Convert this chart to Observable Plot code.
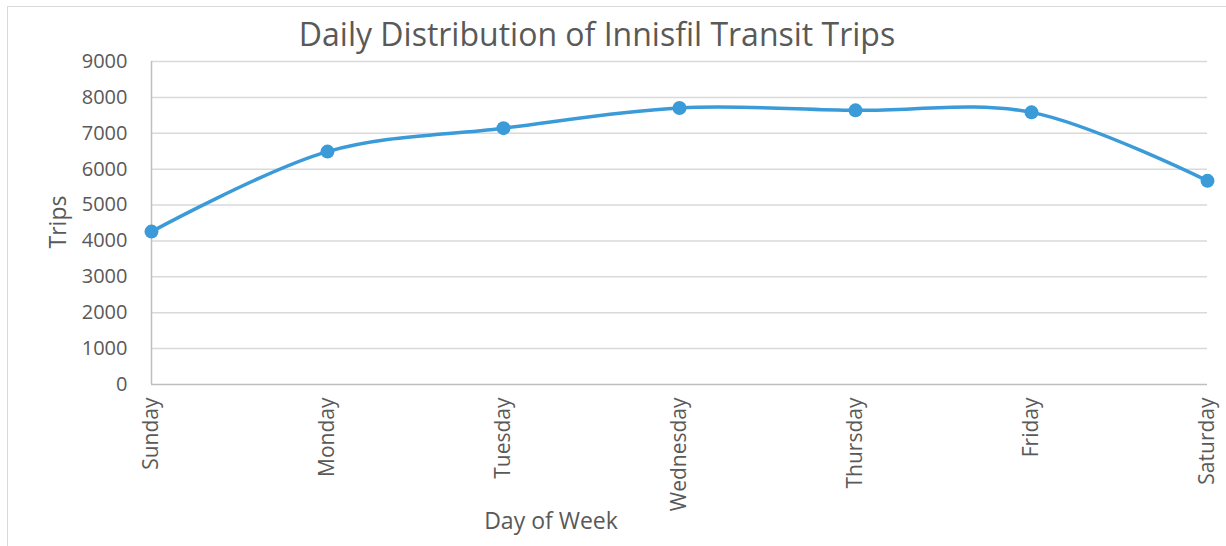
<!DOCTYPE html>
<html>
<head>
<meta charset="utf-8">
<script src="https://cdn.jsdelivr.net/npm/d3@7"></script>
<script src="https://cdn.jsdelivr.net/npm/@observablehq/plot@0.6"></script>
<style>
  html, body { margin: 0; padding: 0; background: #fff; }
  body { width: 1226px; height: 546px; overflow: hidden; position: relative; font-family: "Open Sans", sans-serif; color: #595959; }
  #frame { position: absolute; left: 7px; top: 6px; width: 1400px; height: 700px; border: 1.5px solid #d9d9d9; box-sizing: border-box; }
  #chart { position: absolute; left: 0; top: 0; }
  .lbl { position: absolute; white-space: nowrap; color: #595959; }
  #title { left: 0; width: 1194px; text-align: center; top: 14px; font-size: 32px; line-height: 40px; }
  #xlabel { left: 551px; top: 505px; font-size: 23px; line-height: 30px; transform: translateX(-50%); }
  #ylabel { left: 57px; top: 222px; font-size: 23px; line-height: 30px; transform: translate(-50%, -50%) rotate(-90deg); }
</style>
</head>
<body>
<div id="frame"></div>
<div id="chart"></div>
<div id="title" class="lbl">Daily Distribution of Innisfil Transit Trips</div>
<div id="xlabel" class="lbl">Day of Week</div>
<div id="ylabel" class="lbl">Trips</div>
<script>
const days = ["Sunday", "Monday", "Tuesday", "Wednesday", "Thursday", "Friday", "Saturday"];
const trips = [4260, 6490, 7143, 7706, 7639, 7583, 5675];
const yTicks = [0, 1000, 2000, 3000, 4000, 5000, 6000, 7000, 8000, 9000];

const data = days.map((d, i) => ({day: d, trips: trips[i]}));
const blue = "#3a9bd8";

const chart = Plot.plot({
  width: 1226,
  height: 546,
  marginLeft: 151,
  marginRight: 19,
  marginTop: 61,
  marginBottom: 162,
  style: {fontFamily: "'Open Sans', sans-serif", fontSize: "20px", color: "#595959", background: "transparent", overflow: "visible"},
  x: {type: "point", domain: days, padding: 0, label: null},
  y: {domain: [0, 9000], label: null},
  marks: [
    Plot.ruleY(yTicks.filter(t => t > 0), {stroke: "#d9d9d9", strokeWidth: 1.5, strokeOpacity: 1}),
    Plot.ruleY([0], {stroke: "#bfbfbf", strokeWidth: 1.5}),
    Plot.ruleX([days[0]], {stroke: "#bfbfbf", strokeWidth: 1.5}),
    Plot.axisY({ticks: yTicks, tickSize: 0, tickPadding: 24, tickFormat: d => String(d), label: null, fill: "#595959"}),
    Plot.axisX({tickSize: 0, tickPadding: 13, tickRotate: -90, label: null, fill: "#595959", fontSize: 21}),
    Plot.line(data, {x: "day", y: "trips", stroke: blue, strokeWidth: 3.5, curve: "catmull-rom"}),
    Plot.dot(data, {x: "day", y: "trips", fill: blue, r: 7})
  ]
});
document.getElementById("chart").appendChild(chart);
</script>
</body>
</html>
